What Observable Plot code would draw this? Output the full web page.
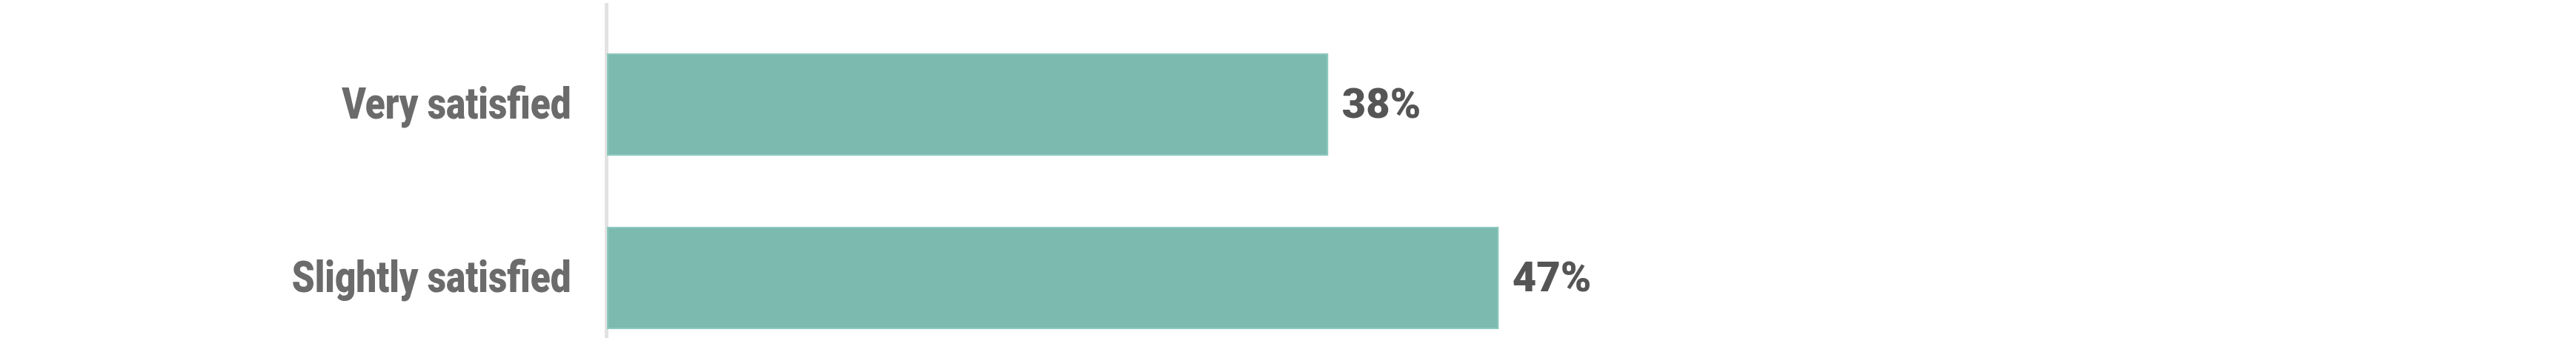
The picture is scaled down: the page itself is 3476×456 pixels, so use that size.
<!DOCTYPE html>
<html>
<head>
<meta charset="utf-8">
<script src="https://cdn.jsdelivr.net/npm/d3@7"></script>
<script src="https://cdn.jsdelivr.net/npm/@observablehq/plot@0.6"></script>
<style>
  html, body { margin: 0; padding: 0; background: #fff; }
  #chart svg { display: block; }
</style>
</head>
<body>
<div id="chart"></div>
<script>
const categories = ["Very satisfied", "Slightly satisfied"];
const values = [38, 47];

const data = categories.map((c, i) => ({category: c, value: values[i]}));

const chart = Plot.plot({
  width: 3476,
  height: 456,
  marginLeft: 820,
  marginRight: 100,
  marginTop: 4,
  marginBottom: 0,
  style: {fontFamily: "Roboto", background: "#fff"},
  x: {domain: [0, 100], axis: null},
  y: {domain: categories, range: [72, 443], paddingInner: 0.42, paddingOuter: 0, label: null},
  marks: [
    Plot.ruleX([0], {stroke: "#e2e2e2", strokeWidth: 5, dx: -2}),
    Plot.barX(data, {x: "value", y: "category", fill: "#7cbab0", stroke: "#8cc8bd", strokeWidth: 2, inset: 0}),
    Plot.axisY({tickSize: 0, tickPadding: 50, fontSize: 59, fontWeight: 900, color: "#6b6b6b", label: null}),
    Plot.text(data, {x: "value", y: "category", text: d => d.value + "%", textAnchor: "start", dx: 19, fontSize: 56, fontWeight: 900, fill: "#555555"})
  ]
});
document.getElementById("chart").append(chart);

// condensed look for the category labels (horizontal squeeze around the anchor)
d3.select(chart).selectAll('g[aria-label="y-axis tick label"] text').each(function() {
  const t = this.getAttribute("transform") || "";
  this.setAttribute("transform", t + " scale(0.838,1)");
});
</script>
</body>
</html>
